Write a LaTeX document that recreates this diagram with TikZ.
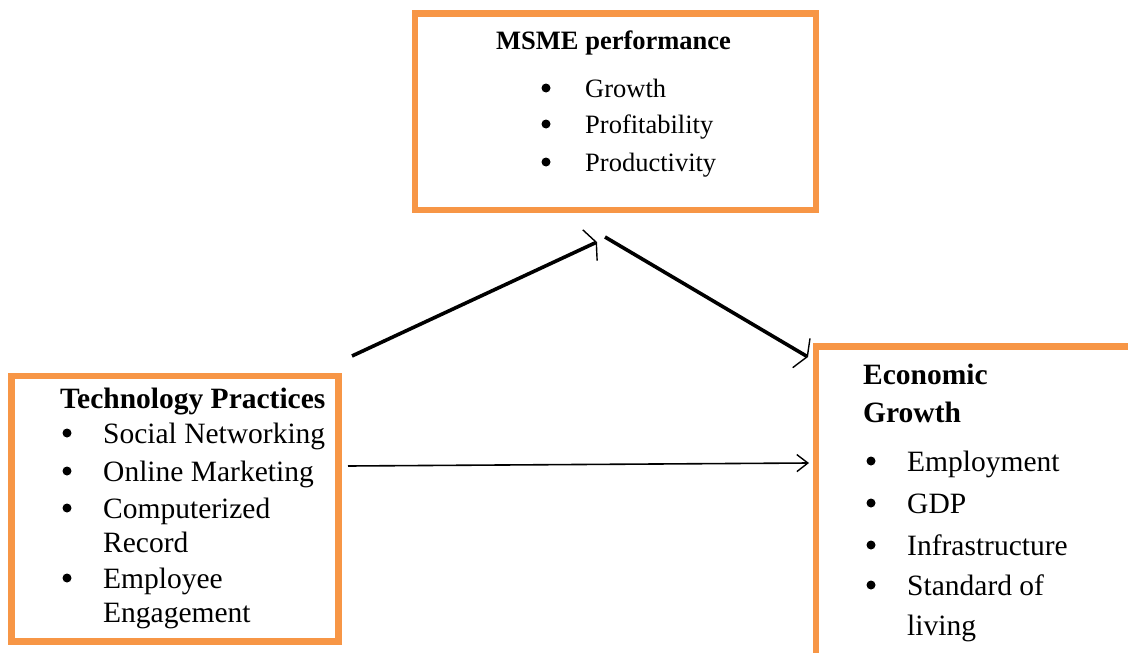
\documentclass[tikz,border=0pt]{standalone}
\usepackage{fontspec}
\setmainfont{Liberation Serif}
\usetikzlibrary{arrows.meta}
\definecolor{boxorange}{HTML}{F79646}
\begin{document}
\begin{tikzpicture}[x=1pt,y=-1pt,
  box/.style={draw=boxorange,line width=6.5pt},
  txtA/.style={anchor=base west,inner sep=0pt,font=\fontsize{26.5}{30}\selectfont},
  txtB/.style={anchor=base west,inner sep=0pt,font=\fontsize{29.5}{33}\selectfont},
  dot/.style={circle,fill=black,inner sep=0pt,minimum size=9pt},
  thickarrow/.style={line width=3.6pt,-{Straight Barb[length=7pt,width=34pt,line width=1.4pt]}},
  thinarrow/.style={line width=1.6pt,-{Straight Barb[length=11pt,width=17pt,line width=1.4pt]}}]
\useasboundingbox (0,0) rectangle (1128,653);
% boxes
\draw[box] (415,13.5) rectangle (816,210);
\draw[box] (11.5,376) rectangle (338.5,641.5);
\draw[box] (816,346.5) rectangle (1140,665);
% MSME box text
\node[txtA,font=\fontsize{26.5}{30}\selectfont\bfseries] (mt) at (496,49) {MSME performance};
\node[dot] (m1b) at (546,88) {};
\node[txtA] (m1) at (585,97) {Growth};
\node[dot] (m2b) at (546,124) {};
\node[txtA] (m2) at (585,133) {Profitability};
\node[dot] (m3b) at (546,162) {};
\node[txtA] (m3) at (585,171) {Productivity};
% Technology box text
\node[txtB,font=\fontsize{29.5}{33}\selectfont\bfseries] (tt) at (60,408) {Technology Practices};
\node[dot] (t1b) at (67,433) {};
\node[txtB] (t1) at (103,443) {Social Networking};
\node[dot] (t2b) at (67,471) {};
\node[txtB] (t2) at (103,481) {Online Marketing};
\node[dot] (t3b) at (67,508) {};
\node[txtB] (t3) at (103,518) {Computerized};
\node[txtB] (t3c) at (103,552) {Record};
\node[dot] (t4b) at (67,578) {};
\node[txtB] (t4) at (103,588) {Employee};
\node[txtB] (t4c) at (103,622) {Engagement};
% Economic box text
\node[txtB,font=\fontsize{29.5}{33}\selectfont\bfseries] (et) at (863,384) {Economic};
\node[txtB,font=\fontsize{29.5}{33}\selectfont\bfseries] (et2) at (863,422) {Growth};
\node[dot] (e1b) at (871,461) {};
\node[txtB] (e1) at (907,471) {Employment};
\node[dot] (e2b) at (871,503) {};
\node[txtB] (e2) at (907,513) {GDP};
\node[dot] (e3b) at (871,545) {};
\node[txtB] (e3) at (907,555) {Infrastructure};
\node[dot] (e4b) at (871,585) {};
\node[txtB] (e4) at (907,595) {Standard of};
\node[txtB] (e4c) at (907,635) {living};
% connectors
\coordinate (a1s) at (352,356);
\coordinate (a1e) at (597,242);
\coordinate (a2s) at (605,237);
\coordinate (a2e) at (808,357);
\coordinate (a3s) at (348,466);
\coordinate (a3e) at (809,463);
\draw[thickarrow] (a1s) -- (a1e);
\draw[thickarrow] (a2s) -- (a2e);
\draw[thinarrow] (a3s) -- (a3e);
\end{tikzpicture}
\end{document}
